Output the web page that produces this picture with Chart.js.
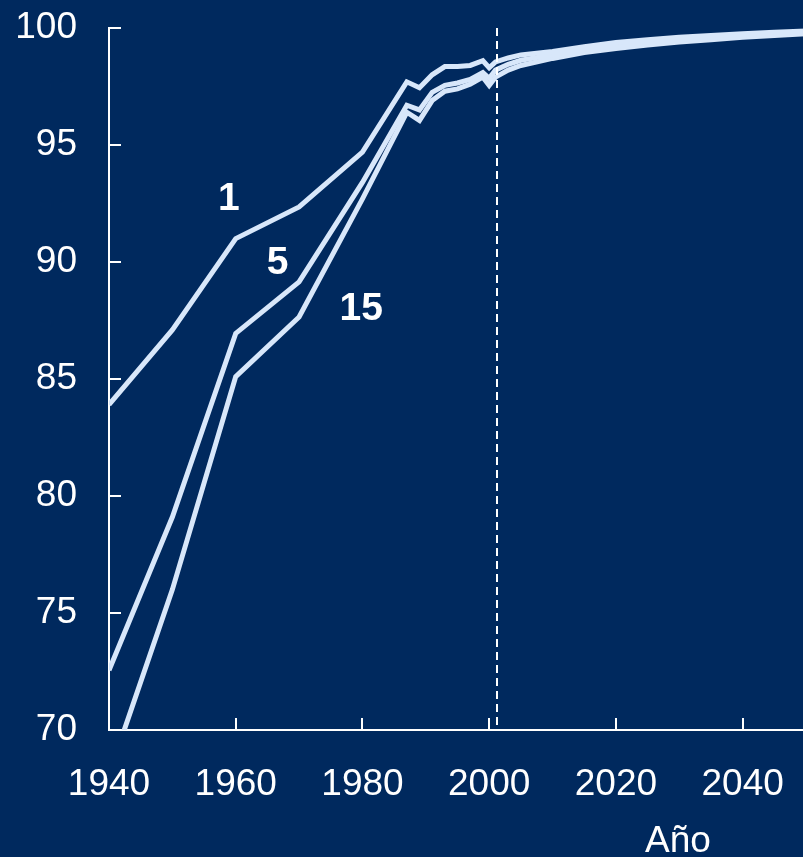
<!DOCTYPE html>
<html>
<head>
<meta charset="utf-8">
<script src="https://cdn.jsdelivr.net/npm/chart.js@4"></script>
<style>
  html, body { margin: 0; padding: 0; overflow: hidden; background: #00295e; }
  #wrap { width: 806px; height: 857px; position: relative; }
</style>
</head>
<body>
<div id="wrap"><canvas id="chart"></canvas></div>
<script>
// years shared by the three series
var years = [1940, 1950, 1960, 1970, 1980, 1987, 1989, 1991, 1993, 1995, 1997, 1999, 2000,
             2001, 2003, 2005, 2010, 2015, 2020, 2025, 2030, 2035, 2040, 2045, 2050];
var serie1 = [83.9, 87.1, 91.0, 92.35, 94.7, 97.7, 97.45, 98.0, 98.35, 98.35, 98.4, 98.6, 98.3,
              98.55, 98.72, 98.85, 99.0, 99.2, 99.38, 99.5, 99.6, 99.68, 99.75, 99.82, 99.87];
var serie5 = [72.55, 79.1, 86.95, 89.15, 93.4, 96.7, 96.5, 97.25, 97.55, 97.65, 97.8, 98.1, 97.85,
              98.2, 98.45, 98.62, 98.85, 99.08, 99.25, 99.4, 99.5, 99.6, 99.68, 99.75, 99.8];
var serie15 = [68.1, 76.0, 85.1, 87.65, 92.7, 96.4, 96.05, 96.9, 97.3, 97.4, 97.6, 97.9, 97.55,
               97.9, 98.2, 98.4, 98.7, 98.95, 99.12, 99.27, 99.4, 99.5, 99.6, 99.68, 99.75];
var seriesNames = ["1", "5", "15"];
var xTicks = [1940, 1960, 1980, 2000, 2020, 2040];
var yTicks = [70, 75, 80, 85, 90, 95, 100];
var forecastStart = 2001.2;

var lineColor = "#d8e7fa";
var font = "Liberation Sans, Arial, sans-serif";

function toPoints(values) {
    return values.map(function(v, i) {
        return { x: years[i], y: v }
    })
}

// ticks pointing into the plot, dashed marker, series names and axis title
var decorations = {
    id: "decorations",
    afterDatasetsDraw: function(chart) {
        var ctx = chart.ctx;
        var xs = chart.scales.x, ys = chart.scales.y;
        var area = chart.chartArea;
        ctx.save();
        ctx.strokeStyle = "#ffffff";
        ctx.lineWidth = 2;
        xTicks.forEach(function(t) {
            var px = Math.round(xs.getPixelForValue(t));
            ctx.beginPath();
            ctx.moveTo(px, area.bottom);
            ctx.lineTo(px, area.bottom - 12);
            ctx.stroke();
        });
        yTicks.forEach(function(t) {
            var py = Math.round(ys.getPixelForValue(t));
            ctx.beginPath();
            ctx.moveTo(area.left, py);
            ctx.lineTo(area.left + 12, py);
            ctx.stroke();
        });
        // dashed line where the projection starts
        var dx = Math.round(xs.getPixelForValue(forecastStart));
        ctx.setLineDash([8, 5]);
        ctx.beginPath();
        ctx.moveTo(dx, area.top);
        ctx.lineTo(dx, area.bottom);
        ctx.stroke();
        ctx.setLineDash([]);

        ctx.fillStyle = "#ffffff";
        ctx.textAlign = "center";
        ctx.textBaseline = "middle";
        ctx.font = "bold 39px " + font;
        var spots = [[1958.9, 92.7], [1966.6, 89.95], [1979.8, 88.0]];
        seriesNames.forEach(function(name, i) {
            ctx.fillText(name, xs.getPixelForValue(spots[i][0]), ys.getPixelForValue(spots[i][1]));
        });

        ctx.font = "37px " + font;
        ctx.textBaseline = "alphabetic";
        ctx.fillText("Año", 678, 852);
        ctx.restore();
    }
};

var ctx = document.getElementById("chart").getContext("2d");
new Chart(ctx, {
    type: "line",
    data: {
        datasets: [serie1, serie5, serie15].map(function(s, i) {
            return {
                label: seriesNames[i],
                data: toPoints(s),
                borderColor: lineColor,
                borderWidth: 5,
                pointRadius: 0,
                fill: false,
                tension: 0
            }
        })
    },
    options: {
        responsive: true,
        maintainAspectRatio: false,
        animation: false,
        layout: { autoPadding: false, padding: { top: 28, right: 0, left: 0, bottom: 0 } },
        plugins: {
            legend: { display: false },
            tooltip: { enabled: false }
        },
        scales: {
            x: {
                type: "linear",
                min: 1940,
                max: 2050,
                afterFit: function(scale) {
                    scale.height = 127;
                    scale.paddingLeft = 0;
                    scale.paddingRight = 0;
                },
                afterBuildTicks: function(scale) {
                    scale.ticks = xTicks.map(function(v) { return { value: v } })
                },
                ticks: {
                    color: "#ffffff",
                    font: { family: font, size: 37 },
                    padding: 33,
                    maxRotation: 0,
                    callback: function(v) { return String(v) }
                },
                grid: { display: true, drawOnChartArea: false, drawTicks: false },
                border: { color: "#ffffff", width: 2 }
            },
            y: {
                min: 70,
                max: 100,
                afterFit: function(scale) {
                    scale.width = 109;
                    scale.paddingTop = 0;
                    scale.paddingBottom = 0;
                },
                afterBuildTicks: function(scale) {
                    scale.ticks = yTicks.map(function(v) { return { value: v } })
                },
                ticks: {
                    color: "#ffffff",
                    font: { family: font, size: 37 },
                    padding: 32
                },
                grid: { display: true, drawOnChartArea: false, drawTicks: false },
                border: { color: "#ffffff", width: 2 }
            }
        }
    },
    plugins: [decorations]
});
</script>
</body>
</html>
